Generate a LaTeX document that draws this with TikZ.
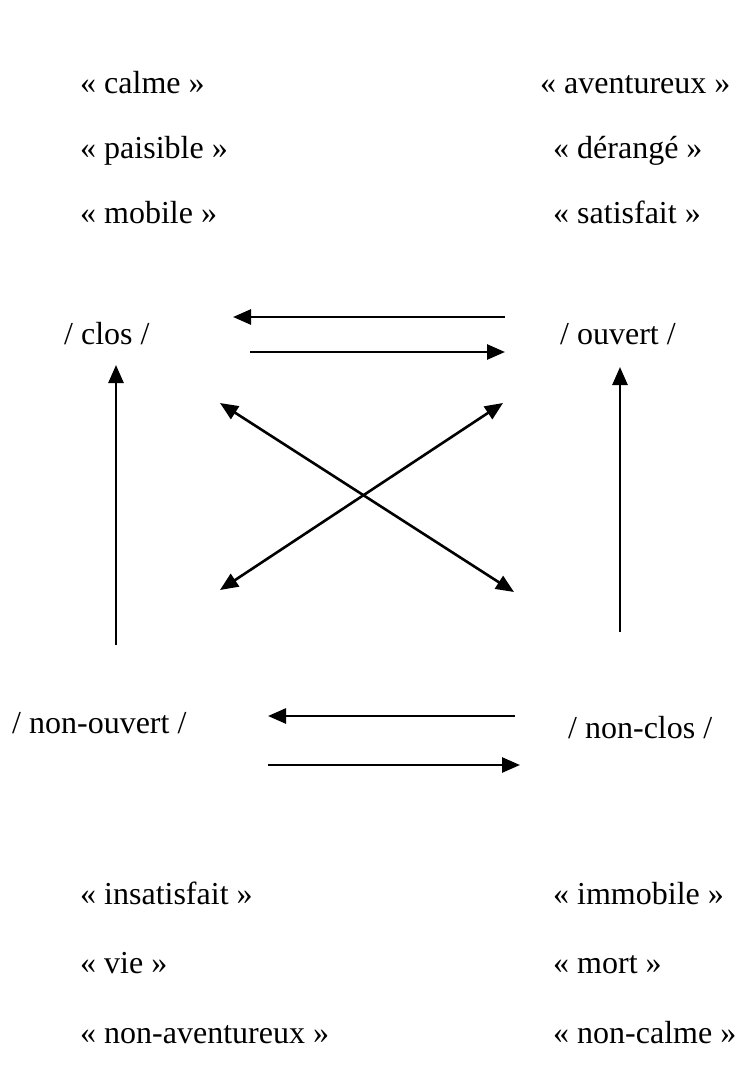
\documentclass[tikz,border=0pt]{standalone}
\usepackage{fontspec}
\setmainfont{Liberation Serif}
\usetikzlibrary{arrows.meta}
\begin{document}
\begin{tikzpicture}[x=1pt,y=-1pt,
  lbl/.style={anchor=base west, inner sep=0pt, font=\fontsize{32}{38}\selectfont},
  conn/.style={line width=2.6pt, -{Triangle[length=18pt,width=15pt]}},
  conntwo/.style={line width=2.6pt, {Triangle[length=18pt,width=15pt]}-{Triangle[length=18pt,width=15pt]}}]
\useasboundingbox (0,0) rectangle (744,1069);
% upper labels
\node[lbl] (calme) at (80,93) {«~calme~»};
\node[lbl] (paisible) at (80,158) {«~paisible~»};
\node[lbl] (mobile) at (80,223) {«~mobile~»};
\node[lbl] (aventureux) at (540,93) {«~aventureux~»};
\node[lbl] (derange) at (553,158) {«~dérangé~»};
\node[lbl] (satisfait) at (553,223) {«~satisfait~»};
% square terms
\node[lbl] (clos) at (64,344) {/ clos /};
\node[lbl] (ouvert) at (560,344) {/ ouvert /};
\node[lbl] (nonouvert) at (12,733) {/ non-ouvert /};
\node[lbl] (nonclos) at (568,738) {/ non-clos /};
% lower labels
\node[lbl] (insatisfait) at (80,904) {«~insatisfait~»};
\node[lbl] (vie) at (80,973) {«~vie~»};
\node[lbl] (nonav) at (80,1043) {«~non-aventureux~»};
\node[lbl] (immobile) at (553,904) {«~immobile~»};
\node[lbl] (mort) at (553,973) {«~mort~»};
\node[lbl] (noncalme) at (553,1043) {«~non-calme~»};
% arrow end points
\coordinate (t1s) at (505,317); \coordinate (t1e) at (233,317);
\coordinate (t2s) at (250,352); \coordinate (t2e) at (505,352);
\coordinate (lvs) at (116,645); \coordinate (lve) at (116,365);
\coordinate (rvs) at (620,632); \coordinate (rve) at (620,367);
\coordinate (d1a) at (220,403); \coordinate (d1b) at (514,592);
\coordinate (d2a) at (503,403); \coordinate (d2b) at (220,590);
\coordinate (b1s) at (515,716); \coordinate (b1e) at (268,716);
\coordinate (b2s) at (268,765); \coordinate (b2e) at (520,765);
% arrows
\draw[conn] (t1s) -- (t1e);
\draw[conn] (t2s) -- (t2e);
\draw[conn] (lvs) -- (lve);
\draw[conn] (rvs) -- (rve);
\draw[conntwo] (d1a) -- (d1b);
\draw[conntwo] (d2a) -- (d2b);
\draw[conn] (b1s) -- (b1e);
\draw[conn] (b2s) -- (b2e);
\end{tikzpicture}
\end{document}
